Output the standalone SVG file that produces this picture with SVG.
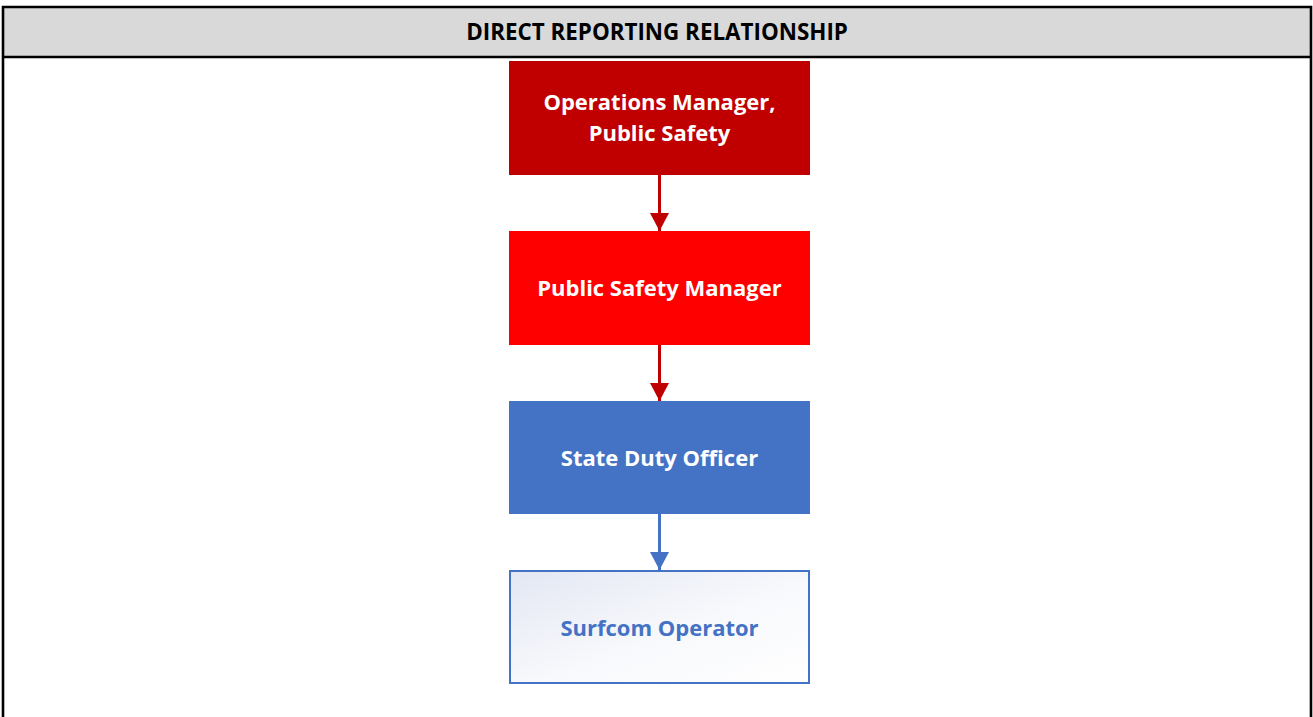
<svg xmlns="http://www.w3.org/2000/svg" width="1313" height="717" viewBox="0 0 1313 717">
  <style>
    .frame { fill: none; stroke: #000000; stroke-width: 2.6; }
    .title { font-family: "Open Sans", "Liberation Sans", sans-serif; font-weight: bold; font-size: 22.4px; fill: #000000; text-anchor: middle; }
    .label { font-family: "Open Sans", "Liberation Sans", sans-serif; font-weight: bold; font-size: 22px; fill: #ffffff; text-anchor: middle; }
    .label-blue { fill: #4472C4; }
    .edge { fill: none; stroke-width: 3; }
    .edge-red { stroke: #C00000; }
    .edge-blue { stroke: #4472C4; }
  </style>
  <defs>
    <linearGradient id="paleFill" x1="0" y1="0" x2="1" y2="1">
      <stop offset="0" stop-color="#E3E7F3"/>
      <stop offset="0.55" stop-color="#F8F9FC"/>
      <stop offset="1" stop-color="#FFFFFF"/>
    </linearGradient>
    <marker id="headRed" viewBox="0 0 18 19" refX="18" refY="9.5" markerWidth="18" markerHeight="19" markerUnits="userSpaceOnUse" orient="auto">
      <path d="M0,0 L18,9.5 L0,19 Z" fill="#C00000"/>
    </marker>
    <marker id="headBlue" viewBox="0 0 18 19" refX="18" refY="9.5" markerWidth="18" markerHeight="19" markerUnits="userSpaceOnUse" orient="auto">
      <path d="M0,0 L18,9.5 L0,19 Z" fill="#4472C4"/>
    </marker>
  </defs>

  <rect x="0" y="0" width="1313" height="717" fill="#ffffff"/>

  <!-- table frame with header band -->
  <g id="header">
    <rect x="3" y="7" width="1308" height="50" fill="#D9D9D9"/>
    <path class="frame" d="M3,718 V7 H1311 V718"/>
    <line class="frame" x1="3" y1="57" x2="1311" y2="57"/>
    <text class="title" x="657" y="40">DIRECT REPORTING RELATIONSHIP</text>
  </g>

  <!-- connectors -->
  <g id="connectors">
    <line class="edge edge-red" x1="659.5" y1="175" x2="659.5" y2="231" marker-end="url(#headRed)"/>
    <line class="edge edge-red" x1="659.5" y1="345" x2="659.5" y2="401" marker-end="url(#headRed)"/>
    <line class="edge edge-blue" x1="659.5" y1="514" x2="659.5" y2="570" marker-end="url(#headBlue)"/>
  </g>

  <g id="ops-manager">
    <rect x="509" y="61" width="301" height="114" fill="#C00000"/>
    <text class="label" x="659.5" y="110">Operations Manager,</text>
    <text class="label" x="659.5" y="141">Public Safety</text>
  </g>

  <g id="ps-manager">
    <rect x="509" y="231" width="301" height="114" fill="#FF0000"/>
    <text class="label" x="659.5" y="296">Public Safety Manager</text>
  </g>

  <g id="duty-officer">
    <rect x="509" y="401" width="301" height="113" fill="#4472C4"/>
    <text class="label" x="659.5" y="466">State Duty Officer</text>
  </g>

  <g id="surfcom-operator">
    <rect x="510" y="571" width="299" height="112" fill="url(#paleFill)" stroke="#4472C4" stroke-width="2"/>
    <text class="label label-blue" x="659.5" y="636">Surfcom Operator</text>
  </g>
</svg>
